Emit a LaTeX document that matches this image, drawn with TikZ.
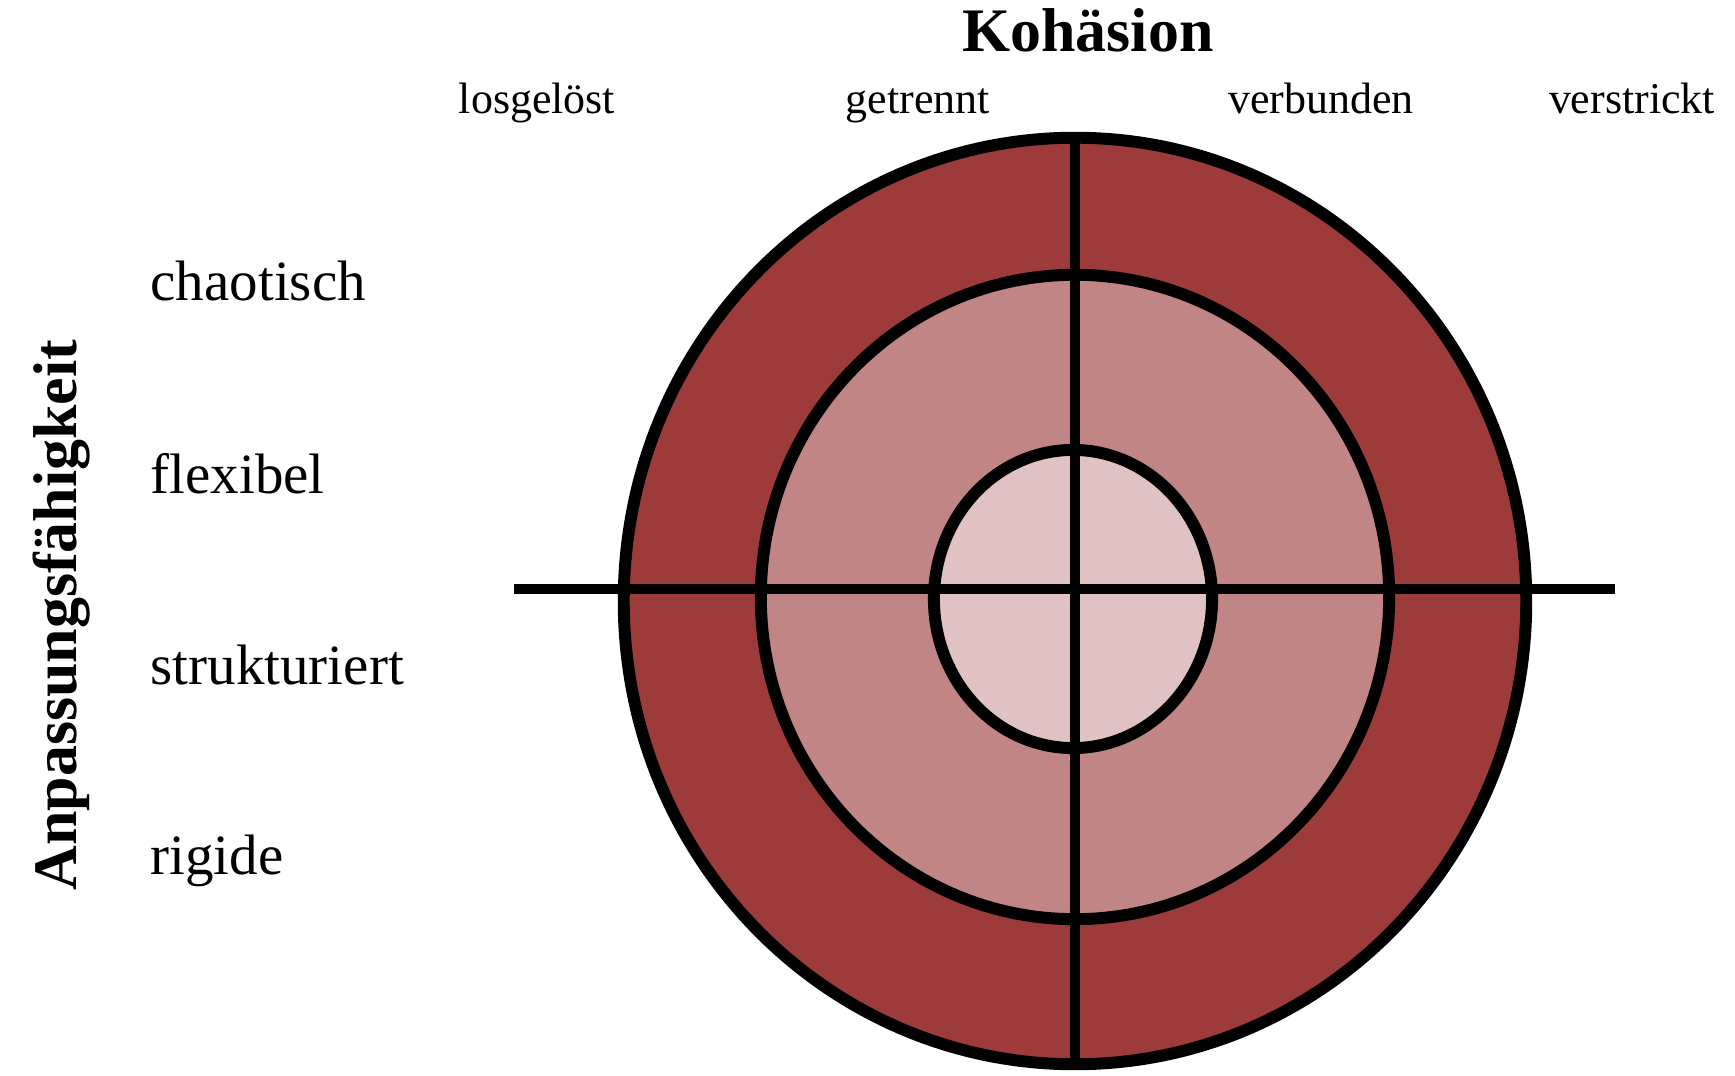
\documentclass[tikz,border=0pt]{standalone}
\usepackage{fontspec}
\setmainfont{Liberation Serif}
\usepackage{xcolor}
\definecolor{maroon}{RGB}{128,0,0}
\usetikzlibrary{shapes.geometric,positioning}

\begin{document}
\begin{tikzpicture}[
        x=0.01cm,y=-0.01cm,
        ring/.style={draw,ellipse,line width=3.4pt,inner sep=0pt,outer sep=0pt},
        axis/.style={line width=2.9pt,line cap=butt},
        title/.style={font=\fontsize{17.6}{20}\selectfont\bfseries,inner sep=0pt},
        level/.style={font=\fontsize{16.2}{19}\selectfont,inner sep=0pt,anchor=base west},
        cohlabel/.style={font=\fontsize{12.5}{15}\selectfont,inner sep=0pt,anchor=base},
    ]
    \useasboundingbox (0,0) rectangle (1735,1076);

    \node[ring,fill=maroon!77,minimum width=9.02cm,minimum height=9.26cm] (outer)  at (1075,601) {};
    \node[ring,fill=maroon!48,minimum width=6.28cm,minimum height=6.44cm] (middle) at (1075,597) {};
    \node[ring,fill=maroon!24,minimum width=2.78cm,minimum height=2.98cm] (inner)  at (1073,599) {};

    \coordinate (hl) at (514,589);
    \coordinate (hr) at (1615,589);
    \draw[axis] (hl) -- (hr);
    \draw[axis] (outer.north) -- (outer.south);

    \node[title,anchor=base] (kohaesion) at (1088,52) {Kohäsion};
    \node[title,anchor=base,rotate=90] (anpassung) at (76,615) {Anpassungsfähigkeit};

    \node[cohlabel] (losgeloest) at (537,114)  {losgelöst};
    \node[cohlabel] (getrennt)   at (918,114)  {getrennt};
    \node[cohlabel] (verbunden)  at (1321,114) {verbunden};
    \node[cohlabel] (verstrickt) at (1632,114) {verstrickt};

    \node[level] (chaotisch)    at (150,301) {chaotisch};
    \node[level] (flexibel)     at (150,494) {flexibel};
    \node[level] (strukturiert) at (150,684) {strukturiert};
    \node[level] (rigide)       at (150,874) {rigide};
\end{tikzpicture}
\end{document}
